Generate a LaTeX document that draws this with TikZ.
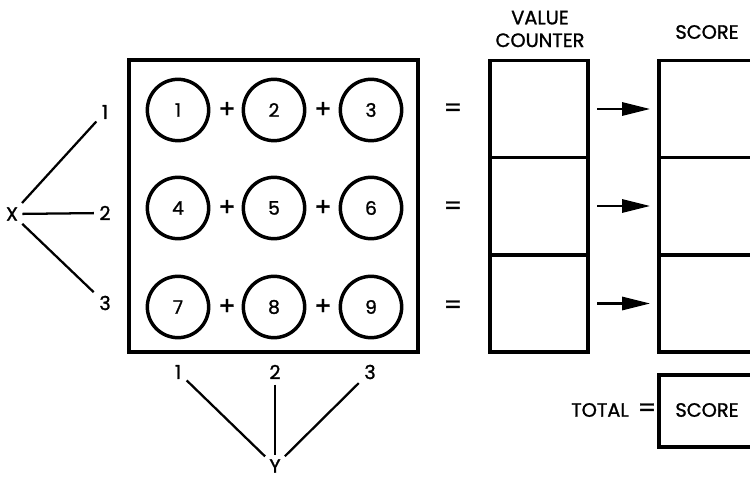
\documentclass[tikz,border=0pt]{standalone}
\usepackage{fontspec}
\setmainfont{Poppins}[FakeBold=1.3]
\usetikzlibrary{arrows.meta}
\begin{document}
\begin{tikzpicture}[x=0.75pt,y=-0.75pt,
  txt/.style={font=\fontsize{14.5}{17}\selectfont, inner sep=2pt},
  sign/.style={font=\fontsize{19}{20}\selectfont, inner sep=1pt},
  lbl/.style={txt, inner sep=4pt},
  num/.style={circle, draw, line width=2.6pt, minimum size=46pt, inner sep=0pt, font=\fontsize{14}{15}\selectfont},
  cell/.style={draw, line width=2.6pt, minimum width=73.5pt, minimum height=72.75pt, inner sep=0pt, outer sep=0pt},
  scell/.style={draw, line width=2.6pt, minimum width=90pt, minimum height=72.75pt, inner sep=0pt, outer sep=0pt},
  conn/.style={line width=1.7pt},
  arr/.style={line width=1.7pt, -{Triangle[length=21pt,width=10pt]}, shorten <=6.75pt, shorten >=6.75pt}]
\useasboundingbox (0,0) rectangle (750,481);
\clip (0,0) rectangle (750,481);
% main grid box
\node[draw, line width=2.6pt, minimum width=216.75pt, minimum height=219pt, inner sep=0pt] (grid) at (273.5,206) {};
% circles
\node[num] (c1) at (178,110) {1};
\node[num] (c2) at (274,110) {2};
\node[num] (c3) at (371,110) {3};
\node[num] (c4) at (178,208) {4};
\node[num] (c5) at (274,208) {5};
\node[num] (c6) at (371,208) {6};
\node[num] (c7) at (178,307) {7};
\node[num] (c8) at (274,307) {8};
\node[num] (c9) at (371,307) {9};
% plus and equals signs
\foreach \r/\y in {1/110,2/208,3/307}{
  \node[sign] (pa\r) at (227,\y) {+};
  \node[sign] (pb\r) at (323,\y) {+};
  \node[sign] (eq\r) at (453,\y) {=};
}
% value counter cells
\node[cell] (v1) at (539,109) {};
\node[cell] (v2) at (539,206) {};
\node[cell] (v3) at (539,303.5) {};
% score cells
\node[scell] (s1) at (719,109) {};
\node[scell] (s2) at (719,206) {};
\node[scell] (s3) at (719,303.5) {};
% arrows
\draw[arr] (v1.east) -- (s1.west);
\draw[arr] (v2.east) -- (s2.west);
\draw[arr] (v3.east) -- (s3.west);
% headers
\node[txt, align=center] (vch) at (540,29) {VALUE\\COUNTER};
\node[txt] (sch) at (707,32) {SCORE};
% total
\node[draw, line width=2.6pt, minimum width=90pt, minimum height=54pt, inner sep=0pt] (tot) at (719,411) {};
\node[txt] (tscore) at (707,410) {SCORE};
\node[txt] (ttl) at (600,410) {TOTAL};
\node[sign] (teq) at (647,410) {=};
% X side
\node[lbl, inner sep=3pt] (X) at (12,214) {X};
\node[lbl] (x1) at (105,112) {1};
\node[lbl] (x2) at (105,213) {2};
\node[lbl] (x3) at (105,303) {3};
\draw[conn] (X) -- (x1);
\draw[conn] (X) -- (x2);
\draw[conn] (X) -- (x3);
% Y side
\node[lbl] (y1) at (178,372) {1};
\node[lbl] (y2) at (275,372) {2};
\node[lbl] (y3) at (370,372) {3};
\node[lbl, inner sep=3pt] (Y) at (275,466) {Y};
\draw[conn] (y1) -- (Y);
\draw[conn] (y2) -- (Y);
\draw[conn] (y3) -- (Y);
\end{tikzpicture}
\end{document}
